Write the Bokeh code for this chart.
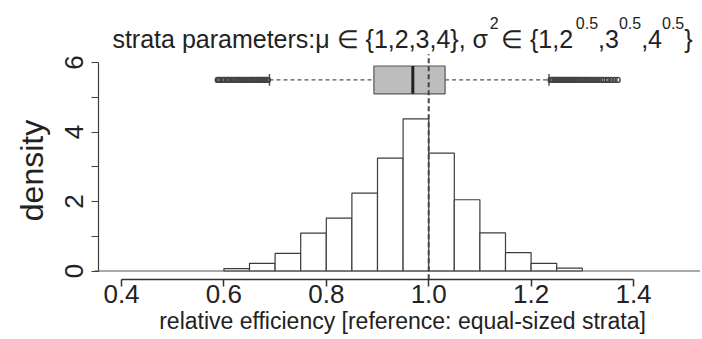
import math
from bokeh.plotting import figure
from bokeh.models import Range1d, FixedTicker, Label
from bokeh.embed import file_html
from bokeh.resources import INLINE

# ---------------- data ----------------
bin_left = [0.60, 0.65, 0.70, 0.75, 0.80, 0.85, 0.90, 0.95, 1.00, 1.05, 1.10, 1.15, 1.20, 1.25]
bin_right = [0.65, 0.70, 0.75, 0.80, 0.85, 0.90, 0.95, 1.00, 1.05, 1.10, 1.15, 1.20, 1.25, 1.30]
density = [0.07, 0.22, 0.51, 1.09, 1.52, 2.24, 3.25, 4.38, 3.39, 2.05, 1.10, 0.53, 0.22, 0.08]

box_q1 = 0.893
box_median = 0.969
box_q3 = 1.032
whisker_low = 0.689
whisker_high = 1.235
outliers_low = [0.588, 0.590, 0.593, 0.597, 0.599, 0.602, 0.606, 0.608, 0.611, 0.615,
                0.617, 0.620, 0.623, 0.626, 0.629, 0.631, 0.634, 0.637, 0.640, 0.643,
                0.645, 0.648, 0.651, 0.654, 0.656, 0.659, 0.662, 0.665, 0.668, 0.670,
                0.673, 0.676, 0.678, 0.681, 0.684, 0.686]
outliers_high = [1.238, 1.241, 1.243, 1.246, 1.249, 1.252, 1.254, 1.257, 1.260, 1.263,
                 1.265, 1.268, 1.271, 1.274, 1.276, 1.279, 1.282, 1.285, 1.288, 1.290,
                 1.293, 1.296, 1.299, 1.302, 1.305, 1.308, 1.311, 1.314, 1.318, 1.321,
                 1.325, 1.329, 1.333, 1.337, 1.341, 1.346, 1.351, 1.357, 1.363, 1.369]
box_position = 5.5
box_half_height = 0.4
reference_value = 1.0

x_limits = [0.4, 1.5]
y_limits = [0, 6]
x_ticks = [0.4, 0.6, 0.8, 1.0, 1.2, 1.4]
x_tick_labels = ["0.4", "0.6", "0.8", "1.0", "1.2", "1.4"]
y_ticks = [0, 1, 2, 3, 4, 5, 6]
y_tick_labels = ["0", "", "2", "", "4", "", "6"]

x_label = "relative efficiency [reference: equal-sized strata]"
y_label = "density"
# title pieces: (text, is_superscript)
title_pieces = [("strata parameters:\u03bc \u2208 {1,2,3,4}, \u03c3", False), ("2", True),
                (" \u2208 {1,2", False), ("0.5", True), (",3", False), ("0.5", True),
                (",4", False), ("0.5", True), ("}", False)]

# ---------------- layout (pixel geometry of the canvas) ----------------
W, H = 700, 338
PX_X = 512.0          # pixels per unit of relative efficiency
PX_Y = 34.75          # pixels per unit of density
X04_PX = 121.0        # canvas x of 0.4
Y0_PX = 270.5         # canvas y of density 0


def dx(px):
    return x_ticks[0] + (px - X04_PX) / PX_X


def dy(py):
    return (Y0_PX - py) / PX_Y


x_start, x_end = dx(0), dx(W)
y_start, y_end = dy(H), dy(0)

# plotting region = limits expanded by 4 % (as in the original graphics device)
xr = x_limits[1] - x_limits[0]
yr = y_limits[1] - y_limits[0]
region_left = x_limits[0] - 0.04 * xr
region_bottom = y_limits[0] - 0.04 * yr
region_top = y_limits[1] + 0.04 * yr

FONT = "Liberation Sans"
INK = "#222222"
LINE = "#3c3c3c"

p = figure(width=W, height=H, output_backend="svg", toolbar_location=None,
           x_range=Range1d(x_start, x_end), y_range=Range1d(y_start, y_end),
           min_border_left=0, min_border_top=0, min_border_bottom=0, min_border_right=0)
p.outline_line_color = None
p.xgrid.visible = False
p.ygrid.visible = False
p.background_fill_color = "white"
p.border_fill_color = "white"

# histogram
p.quad(left=bin_left, right=bin_right, bottom=[0] * len(density), top=density,
       fill_color="white", line_color=LINE, line_width=1.2)
# zero line across the plotting region
p.segment(x0=[dx(94)], y0=[0], x1=[x_end], y1=[0], line_color="#555555", line_width=1)

# boxplot
st = 0.17
p.segment(x0=[whisker_low, box_q3], y0=[box_position] * 2, x1=[box_q1, whisker_high],
          y1=[box_position] * 2, line_color="#555555", line_width=1.2, line_dash="4 3")
p.segment(x0=[whisker_low, whisker_high], y0=[box_position - st] * 2,
          x1=[whisker_low, whisker_high], y1=[box_position + st] * 2,
          line_color="#444444", line_width=1.3)
p.quad(left=[box_q1], right=[box_q3], bottom=[box_position - box_half_height],
       top=[box_position + box_half_height],
       fill_color="#bdbdbd", line_color="#555555", line_width=1.2)
p.segment(x0=[box_median], y0=[box_position - box_half_height], x1=[box_median],
          y1=[box_position + box_half_height], line_color="#222222", line_width=3)
n_out = len(outliers_low) + len(outliers_high)
p.scatter(x=outliers_low + outliers_high, y=[box_position] * n_out,
          marker="circle", size=5, fill_color=None, line_color="#444444", line_width=1.4)

# reference line
p.segment(x0=[reference_value], y0=[region_bottom], x1=[reference_value], y1=[region_top],
          line_color="#444444", line_width=2, line_dash="5 3")

# axes (drawn at the edges of the plotting region)
xa = p.xaxis[0]
xa.fixed_location = region_bottom
xa.ticker = FixedTicker(ticks=x_ticks)
xa.major_label_overrides = {t: s for t, s in zip(x_ticks, x_tick_labels)}
xa.bounds = (x_ticks[0], x_ticks[-1])
xa.minor_tick_line_color = None
xa.major_tick_in = 0
xa.major_tick_out = 7
xa.axis_line_color = "#333333"
xa.axis_line_width = 1.5
xa.major_tick_line_color = "#333333"
xa.major_tick_line_width = 1.5
xa.major_label_text_font = FONT
xa.major_label_text_font_size = "26px"
xa.major_label_text_color = INK
xa.major_label_standoff = -1

ya = p.yaxis[0]
ya.fixed_location = region_left
ya.ticker = FixedTicker(ticks=y_ticks)
ya.major_label_overrides = {t: s for t, s in zip(y_ticks, y_tick_labels)}
ya.bounds = (y_ticks[0], y_ticks[-1])
ya.minor_tick_line_color = None
ya.major_tick_in = 0
ya.major_tick_out = 7
ya.axis_line_color = LINE
ya.axis_line_width = 1.2
ya.major_tick_line_color = LINE
ya.major_tick_line_width = 1.2
ya.major_label_orientation = "parallel"
ya.major_label_text_font = FONT
ya.major_label_text_font_size = "26px"
ya.major_label_text_color = INK
ya.major_label_standoff = 9

# axis titles
p.add_layout(Label(x=dx(402), y=dy(320), text=x_label, text_font=FONT, text_font_size="23px",
                   text_color=INK, text_align="center", text_baseline="middle"))
p.add_layout(Label(x=dx(31), y=dy(170), text=y_label, text_font=FONT, text_font_size="32px",
                   text_color=INK, text_align="center", text_baseline="middle",
                   angle=math.pi / 2))

# title built from pieces (superscripts as smaller raised text)
widths = {'s': 500, 't': 278, 'r': 333, 'a': 556, ' ': 278, 'p': 556, 'm': 833, 'e': 556,
          ':': 278, '\u03bc': 576, '\u2208': 713, '{': 334, '}': 334, '1': 556, '2': 556,
          '3': 556, '4': 556, ',': 278, '\u03c3': 600, '0': 556, '.': 278, '5': 556}
width_fix = [0.25, 0.15, 0, 0, 0, 0, 0, 0, 0]   # small em corrections
F_MAIN, F_SUP = 25, 16


def text_w(s, f):
    return sum(widths.get(c, 556) for c in s) * f / 1000.0


piece_w = []
for (t, sup), fix in zip(title_pieces, width_fix):
    f = F_SUP if sup else F_MAIN
    piece_w.append(text_w(t, f) + fix * f)
cx = 402 - sum(piece_w) / 2.0
for (t, sup), wpx in zip(title_pieces, piece_w):
    f = F_SUP if sup else F_MAIN
    cy = 22 if sup else 38
    p.add_layout(Label(x=dx(cx), y=dy(cy), text=t, text_font=FONT, text_font_size=f"{f}px",
                       text_color=INK, text_baseline="alphabetic", text_align="left"))
    cx += wpx

open("out.html", "w").write(file_html(p, INLINE))
